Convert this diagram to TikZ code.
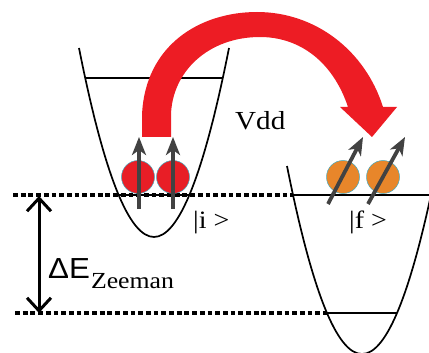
\documentclass[tikz,border=0pt]{standalone}
\usepackage{fontspec}
\setmainfont{Liberation Serif}
\setsansfont{Liberation Sans}
\usetikzlibrary{arrows.meta}
\definecolor{bandred}{RGB}{237,28,36}
\definecolor{ballred}{RGB}{232,30,38}
\definecolor{ballorange}{RGB}{232,134,42}
\definecolor{spingray}{RGB}{66,66,66}
\definecolor{rimteal}{RGB}{70,170,190}
\newcommand{\wtext}[1]{\scalebox{1.12}[1]{#1}}
\begin{document}
\begin{tikzpicture}[x=1pt,y=-1pt,
  well/.style={line width=1.7pt},
  level/.style={line width=2.4pt},
  dotline/.style={line width=3.4pt, dash pattern=on 4.8pt off 2.9pt},
  ball/.style={draw=rimteal, line width=0.5pt},
  spin/.style={draw=spingray, line width=3.8pt, -{Stealth[length=18pt,width=14pt,inset=5pt]}},
  gap/.style={line width=3pt, {Straight Barb[length=13pt,width=24pt]}-{Straight Barb[length=13pt,width=24pt]}},
  lbl/.style={inner sep=0pt, anchor=base west}]
\useasboundingbox (0,0) rectangle (429,353);
\clip (0,0) rectangle (429,353);
% wells
\draw[well] (79,48) .. controls (129,300) and (179,300) .. (229,48);
\draw[well] (287,166) .. controls (337,416.7) and (387,416.7) .. (437,166);
% levels
\draw[level] (85,78) -- (222,78);
\draw[level] (118,195) -- (189,195);
\draw[level] (293,195) -- (429,195);
\draw[level] (327,313) -- (397,313);
\draw[dotline] (13,195) -- (293,195);
\draw[dotline] (15,313) -- (327,313);
% Zeeman gap
\coordinate (gtop) at (39,196);
\coordinate (gbot) at (39,313);
\draw[gap] (gtop) -- (gbot);
% balls
\node[ball, fill=ballred, circle, minimum size=33pt, inner sep=0pt] (b1) at (138,177) {};
\node[ball, fill=ballred, circle, minimum size=33pt, inner sep=0pt] (b2) at (173,177) {};
\node[ball, fill=ballorange, circle, minimum size=33pt, inner sep=0pt] (b3) at (343,177) {};
\node[ball, fill=ballorange, circle, minimum size=33pt, inner sep=0pt] (b4) at (383,177) {};
% spins
\coordinate (s1a) at (139,209); \coordinate (s1b) at (139,137);
\coordinate (s2a) at (173,209); \coordinate (s2b) at (173,137);
\coordinate (s3a) at (328,204); \coordinate (s3b) at (363,137);
\coordinate (s4a) at (368,204); \coordinate (s4b) at (405,137);
\draw[spin] (s1a) -- (s1b);
\draw[spin] (s2a) -- (s2b);
\draw[spin] (s3a) -- (s3b);
\draw[spin] (s4a) -- (s4b);
% hopping arrow
\fill[bandred] (142,137) -- (142,115) .. controls (145,45) and (200,12) .. (257,12)
  .. controls (315,12) and (365,50) .. (383,107) -- (397,107) -- (372,137) -- (340,107) -- (348,107)
  .. controls (333,62) and (300,37) .. (260,37) .. controls (208,37) and (172,72) .. (171,115)
  -- (171,137) -- cycle;
% labels
\node[lbl] (vdd) at (235,129) {\wtext{\fontsize{26pt}{28pt}\selectfont Vdd}};
\node[lbl] (ki) at (193,228) {\wtext{\fontsize{25pt}{27pt}\selectfont |i >}};
\node[lbl] (kf) at (349,228) {\wtext{\fontsize{25pt}{27pt}\selectfont |f >}};
\node[lbl] (dz) at (48,278) {\scalebox{1.08}[1]{\fontsize{29pt}{31pt}\sffamily ΔE}\hspace{1pt}\raisebox{-10pt}{\wtext{\fontsize{23pt}{25pt}\selectfont Zeeman}}};
\end{tikzpicture}
\end{document}
